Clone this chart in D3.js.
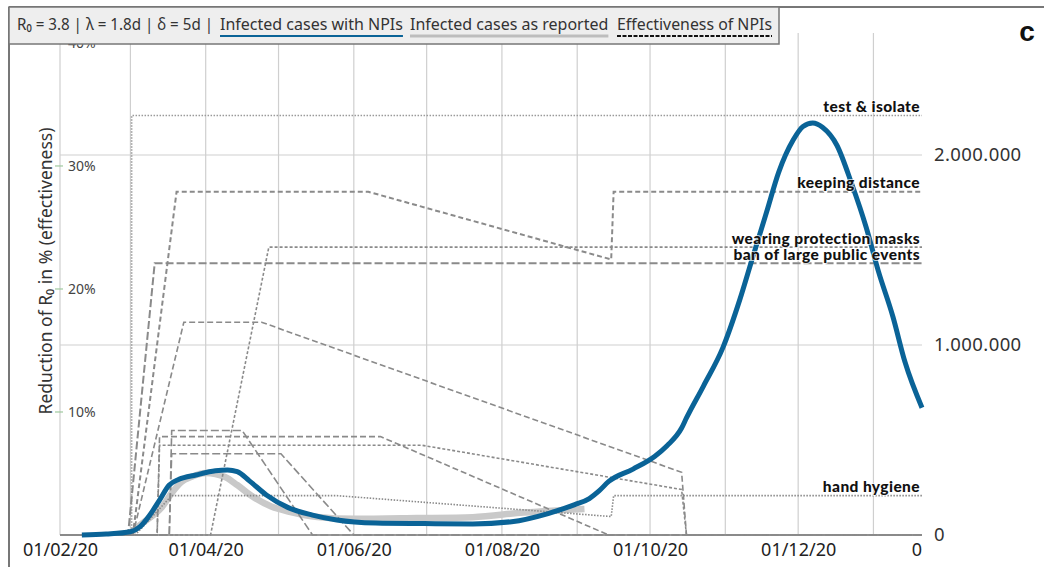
<!DOCTYPE html>
<html><head><meta charset="utf-8">
<script src="https://cdn.jsdelivr.net/npm/d3@7"></script>
<style>
body{margin:0;background:#fff;}
svg{display:block;font-family:"Noto Sans",sans-serif;}
</style></head><body>
<svg id="chart" width="1044" height="567"></svg>
<script>
// ---------- DATA ----------
const xTickDates = ["2020-02-01","2020-04-01","2020-06-01","2020-08-01","2020-10-01","2020-12-01","2021-02-01"];
const leftTicks = [10, 20, 30, 40];
const rightTicks = [0, 1000000, 2000000];

const blueDates = ["2020-02-10","2020-02-20","2020-03-01","2020-03-05","2020-03-09","2020-03-13","2020-03-17","2020-03-21","2020-03-28","2020-04-05","2020-04-10","2020-04-14","2020-04-19","2020-04-26","2020-05-05","2020-05-15","2020-05-25","2020-06-10","2020-06-30","2020-07-20","2020-08-05","2020-08-20","2020-08-31","2020-09-06","2020-09-10","2020-09-14","2020-09-24","2020-10-03","2020-10-08","2020-10-14","2020-10-16","2020-10-23","2020-10-31","2020-11-07","2020-11-12","2020-11-18","2020-11-23","2020-11-29","2020-12-03","2020-12-07","2020-12-11","2020-12-17","2020-12-23","2020-12-29","2021-01-03","2021-01-09","2021-01-14","2021-01-21"];
const blueValues = [0,5000,17000,44000,105000,184000,263000,293000,316000,338000,342000,333000,285000,211000,144000,105000,79000,63000,60000,58000,70000,113000,160000,192000,232000,282000,347000,415000,470000,563000,616000,784000,986000,1240000,1450000,1700000,1910000,2080000,2150000,2168000,2146000,2050000,1850000,1620000,1390000,1150000,910000,670000];

const grayDates = ["2020-03-01","2020-03-06","2020-03-10","2020-03-14","2020-03-18","2020-03-22","2020-03-26","2020-04-01","2020-04-05","2020-04-09","2020-04-14","2020-04-20","2020-04-28","2020-05-06","2020-05-17","2020-06-01","2020-06-27","2020-07-20","2020-08-10","2020-08-25","2020-09-04"];
const grayValues = [9000,63000,100000,147000,221000,279000,305000,326000,321000,305000,263000,205000,150000,121000,95000,85000,89000,94000,118000,130000,137000];

const npiNames = ["test & isolate","keeping distance","wearing protection masks","ban of large public events","hand hygiene","","","","",""];
const testDates = ["2020-02-01","2020-03-01T12:00","2020-03-01T12:00","2021-01-21"];
const testValues = [0,0,34.1,34.1];
const distanceDates = ["2020-02-01","2020-03-02","2020-03-20","2020-06-07","2020-09-15","2020-09-16","2021-01-21"];
const distanceValues = [0,0,27.9,27.9,22.4,27.9,27.9];
const masksDates = ["2020-02-01","2020-04-03","2020-04-27","2021-01-21"];
const masksValues = [0,0,23.4,23.4];
const eventsDates = ["2020-02-01","2020-02-29","2020-03-11","2021-01-21"];
const eventsValues = [0,0,22.1,22.1];
const hygieneDates = ["2020-02-01","2020-03-03","2020-03-18","2020-05-25","2020-09-15","2020-09-16","2021-01-21"];
const hygieneValues = [0,0,3.2,3.2,1.5,3.2,3.2];
const npiADates = ["2020-02-01","2020-03-02","2020-03-23","2020-04-24","2020-10-14","2020-10-16","2021-01-21"];
const npiAValues = [0,0,17.3,17.3,5.1,0,0];
const npiBDates = ["2020-02-01","2020-03-12","2020-03-13","2020-06-29","2020-10-14","2020-10-16","2021-01-21"];
const npiBValues = [0,0,7.3,7.3,3.7,0,0];
const npiCDates = ["2020-02-01","2020-03-12","2020-03-13","2020-06-12","2020-09-14","2021-01-21"];
const npiCValues = [0,0,8.0,8.0,0,0];
const npiDDates = ["2020-02-01","2020-03-17","2020-03-18","2020-04-16","2020-05-15","2021-01-21"];
const npiDValues = [0,0,8.5,8.5,0,0];
const npiEDates = ["2020-02-01","2020-03-17","2020-03-18","2020-05-02","2020-06-01","2021-01-21"];
const npiEValues = [0,0,6.6,6.6,0,0];

// ---------- LAYOUT ----------
const L = 60, R = 922, T = 33, B = 535;
const parse = s => new Date(s.length > 10 ? s : s + "T00:00");
const svg = d3.select("#chart");

const x = d3.scaleTime().domain([parse("2020-02-01"), parse("2021-01-21")]).range([L, R]);
const yL = d3.scaleLinear().domain([0, 40.81]).range([B, T]);
const yR = d3.scaleLinear().domain([0, 2642000]).range([B, T]);

svg.append("defs").append("clipPath").attr("id","clipx")
  .append("rect").attr("x",0).attr("y",0).attr("width",R+1).attr("height",567);

// grid
const months = d3.timeMonth.range(parse("2020-02-01"), parse("2021-01-21"));
const grid = svg.append("g");
grid.selectAll("line.v").data(months).join("line")
  .attr("x1", d => x(d)).attr("x2", d => x(d)).attr("y1", T).attr("y2", B)
  .attr("stroke", "#cfcfcf").attr("stroke-width", 1.2);
grid.selectAll("line.h").data(rightTicks.filter(d => d > 0)).join("line")
  .attr("x1", L).attr("x2", R).attr("y1", d => yR(d)).attr("y2", d => yR(d))
  .attr("stroke", "#cfcfcf").attr("stroke-width", 1.2);
grid.append("line").attr("x1", L).attr("x2", R).attr("y1", B).attr("y2", B)
  .attr("stroke", "#9a9a9a").attr("stroke-width", 2);

// gray reported curve
const lineR = d3.line().x(d => x(d[0])).y(d => yR(d[1])).curve(d3.curveMonotoneX);
svg.append("path").datum(grayDates.map((d,i) => [parse(d), grayValues[i]]))
  .attr("d", lineR).attr("fill","none").attr("stroke","#c9c9c9").attr("stroke-width",6.5);

// NPI lines
const npis = [
  {name: npiNames[0], dates: testDates, values: testValues, dash: "1.5,1.5", w: 1.6, c: "#9a9a9a"},
  {name: npiNames[1], dates: distanceDates, values: distanceValues, dash: "5,3", w: 2, c: "#8a8a8a"},
  {name: npiNames[2], dates: masksDates, values: masksValues, dash: "3,2", w: 1.6, c: "#8a8a8a"},
  {name: npiNames[3], dates: eventsDates, values: eventsValues, dash: "8,3", w: 2, c: "#8a8a8a"},
  {name: npiNames[4], dates: hygieneDates, values: hygieneValues, dash: "1.5,1.5", w: 1.6, c: "#8a8a8a"},
  {name: npiNames[5], dates: npiADates, values: npiAValues, dash: "6,3", w: 1.6, c: "#8a8a8a"},
  {name: npiNames[6], dates: npiBDates, values: npiBValues, dash: "3,2", w: 1.6, c: "#8a8a8a"},
  {name: npiNames[7], dates: npiCDates, values: npiCValues, dash: "6,3", w: 1.6, c: "#8a8a8a"},
  {name: npiNames[8], dates: npiDDates, values: npiDValues, dash: "8,3", w: 1.6, c: "#8a8a8a"},
  {name: npiNames[9], dates: npiEDates, values: npiEValues, dash: "8,3", w: 1.6, c: "#8a8a8a"}
];
const lineL = d3.line().x(d => x(d[0])).y(d => yL(d[1]));
svg.append("g").selectAll("path").data(npis).join("path")
  .attr("d", n => lineL(n.dates.map((d,i) => [parse(d), n.values[i]])))
  .attr("fill","none").attr("stroke", n => n.c).attr("stroke-width", n => n.w)
  .attr("stroke-dasharray", n => n.dash);

// blue curve
svg.append("path").datum(blueDates.map((d,i) => [parse(d), blueValues[i]]))
  .attr("d", lineR).attr("fill","none").attr("stroke","#0a6397").attr("stroke-width",5)
  .attr("stroke-linejoin","round");

// NPI labels
svg.append("g").selectAll("text").data(npis.filter(n => n.name)).join("text")
  .attr("x", R - 2).attr("y", n => yL(n.values[n.values.length-1]) - 3.5)
  .attr("text-anchor","end")
  .style("font-family","Lato, sans-serif").style("font-weight","900").style("font-size","15.5px")
  .style("letter-spacing","0.4px")
  .attr("fill","#111").attr("stroke","#fff").attr("stroke-width",2).attr("stroke-opacity",0.7)
  .attr("paint-order","stroke")
  .text(n => n.name);

// bottom axis
const xAxis = d3.axisBottom(x).tickValues(xTickDates.map(parse)).tickFormat(d3.timeFormat("%d/%m/%y")).tickSize(0).tickPadding(8);
const gx = svg.append("g").attr("transform", `translate(0,${B})`).attr("clip-path","url(#clipx)").call(xAxis);
gx.select(".domain").remove();
gx.selectAll("text").style("font-family","Noto Sans, sans-serif").style("font-size","18px").attr("fill","#222");

// left axis (labels inside)
const gl = svg.append("g").attr("transform", `translate(${L},0)`);
gl.selectAll("line").data(leftTicks).join("line")
  .attr("x1",-5).attr("x2",3).attr("y1", d => yL(d)).attr("y2", d => yL(d))
  .attr("stroke","#9fc99f").attr("stroke-width",1.2);
gl.selectAll("text").data(leftTicks).join("text")
  .attr("x", 8).attr("y", d => yL(d)).attr("dy","0.35em")
  .style("font-size","14px").attr("fill","#444").text(d => d + "%");

// right axis
const gr = svg.append("g").attr("transform", `translate(${R},0)`);
const rightFmt = d => d3.format(",")(d).replace(/,/g, ".");
gr.selectAll("text").data(rightTicks).join("text")
  .attr("x", 12).attr("y", d => yR(d)).attr("dy","0.35em")
  .style("font-size","18.5px").style("letter-spacing","0.4px").attr("fill","#333").text(rightFmt);

// y title
svg.append("text").attr("transform","translate(52,271) rotate(-90)")
  .attr("text-anchor","middle").style("font-size","17.5px").attr("fill","#333")
  .text("Reduction of R\u2080 in % (effectiveness)");

// frame
svg.append("line").attr("x1",9).attr("x2",1044).attr("y1",7).attr("y2",7).attr("stroke","#777").attr("stroke-width",2);
svg.append("line").attr("x1",9).attr("x2",9).attr("y1",7).attr("y2",567).attr("stroke","#777").attr("stroke-width",2);

// legend box
const lg = svg.append("g");
lg.append("rect").attr("x",9).attr("y",7).attr("width",770).attr("height",37)
  .attr("fill","#eeeeee").attr("stroke","#777").attr("stroke-width",1.5);
const legendItems = [
  {t: "R\u2080 = 3.8 | \u03bb = 1.8d | \u03b4 = 5d |", x: 17, maxW: 196, u: null},
  {t: "Infected cases with NPIs", x: 220, maxW: 185, u: {c:"#0a6397", w:2, dash:null}},
  {t: "Infected cases as reported", x: 410, maxW: 201, u: {c:"#bdbdbd", w:3, dash:null}},
  {t: "Effectiveness of NPIs", x: 617, maxW: 155, u: {c:"#111", w:2, dash:"4,1.5"}}
];
legendItems.forEach(it => {
  const t = lg.append("text").attr("x", it.x).attr("y", 30)
    .style("font-size","16px").attr("fill","#333").text(it.t);
  let w = t.node().getComputedTextLength();
  if (w > it.maxW) { t.attr("textLength", it.maxW).attr("lengthAdjust","spacingAndGlyphs"); w = it.maxW; }
  if (it.u) {
    lg.append("line").attr("x1", it.x).attr("x2", it.x + w).attr("y1", 36).attr("y2", 36)
      .attr("stroke", it.u.c).attr("stroke-width", it.u.w).attr("stroke-dasharray", it.u.dash);
  }
});

// panel letter
svg.append("text").attr("x",1027).attr("y",41).attr("text-anchor","middle")
  .style("font-family","Liberation Sans, Arial, sans-serif").style("font-weight","bold").style("font-size","28px")
  .attr("fill","#111").text("c");
</script>
</body></html>
